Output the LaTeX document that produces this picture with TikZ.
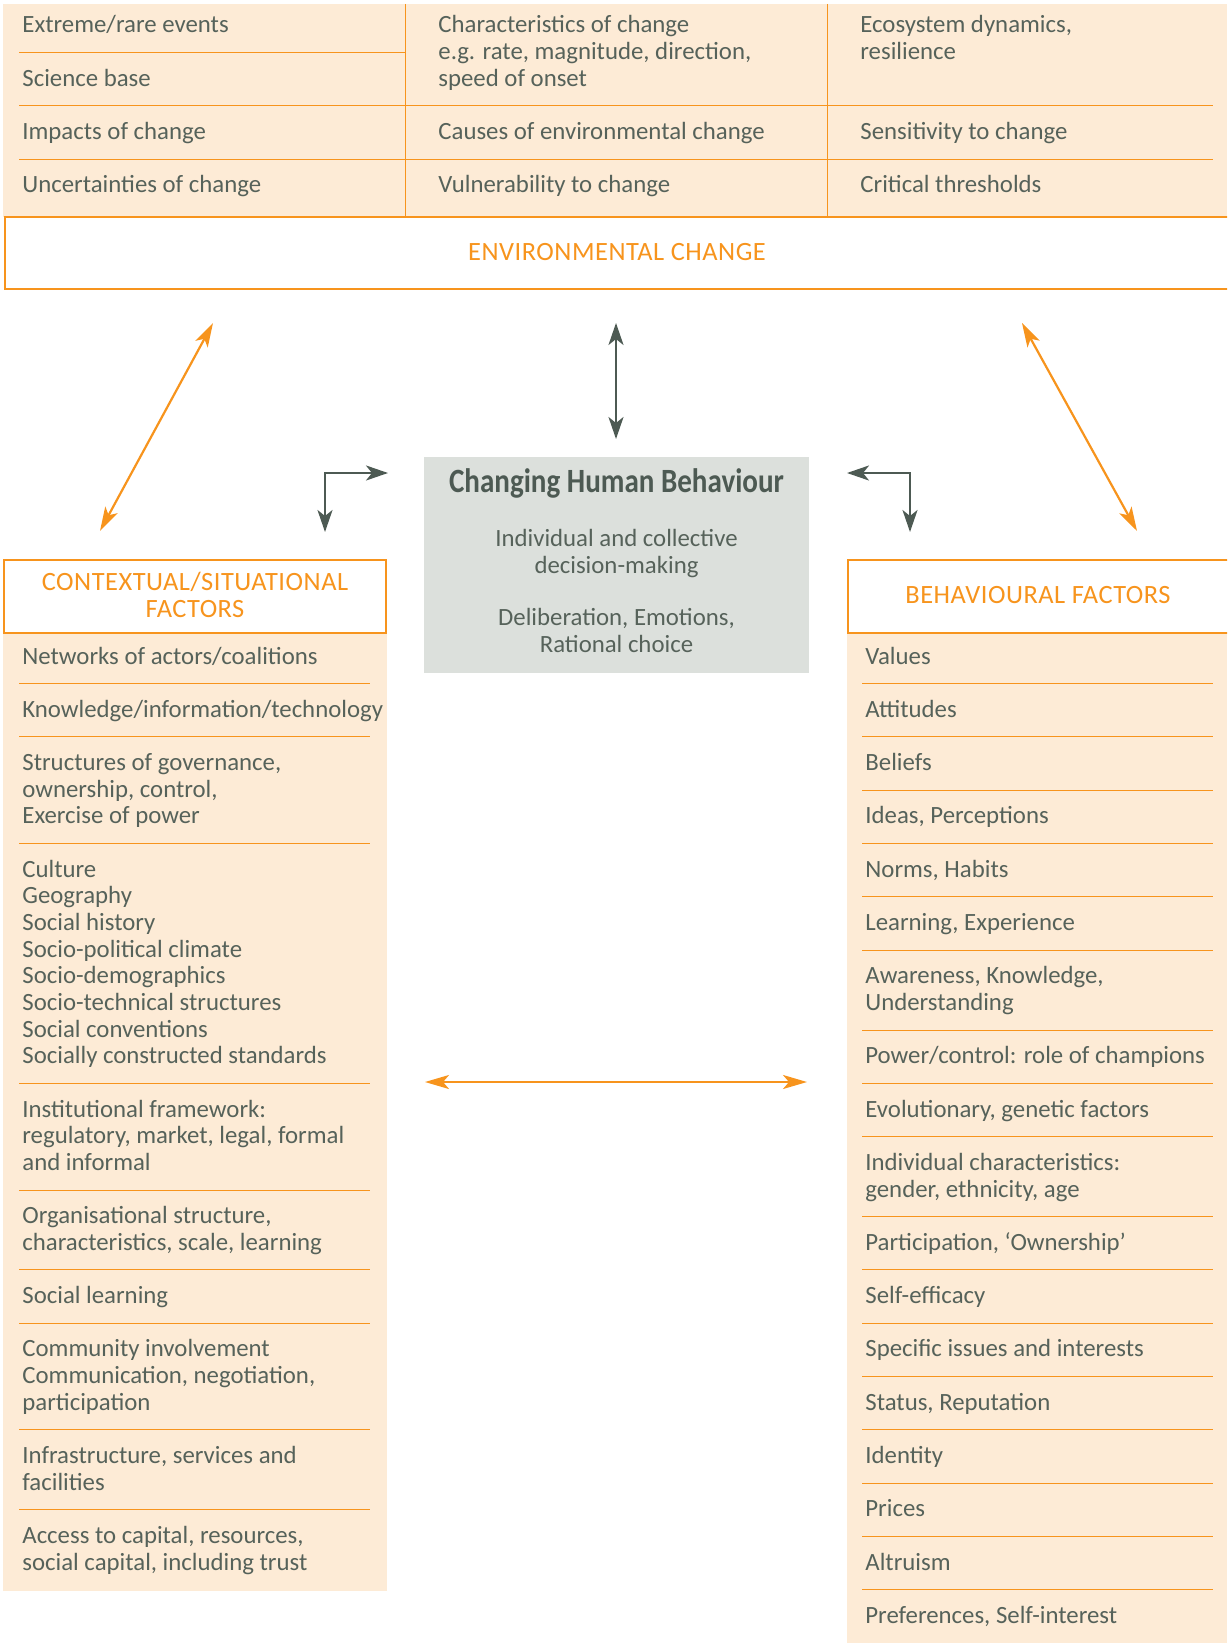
\documentclass[tikz,border=0pt]{standalone}
\usepackage{fontspec}
\usepackage{graphicx}
\setmainfont{Carlito}
\usetikzlibrary{arrows.meta}

\definecolor{envorange}{HTML}{F7941D}
\definecolor{tanbg}{HTML}{FDEBD6}
\definecolor{itemgray}{HTML}{56625A}
\definecolor{boxgray}{HTML}{DCE0DC}
\definecolor{arrowgray}{HTML}{4D5A53}

\tikzset{
  item/.style={anchor=base west, inner sep=0pt, text=itemgray, font=\fontsize{12.4}{13.3}\selectfont},
  midtext/.style={anchor=base, inner sep=0pt, text=itemgray, font=\fontsize{12.4}{13.3}\selectfont},
  heading/.style={inner sep=0pt, text=envorange, align=center, font=\fontsize{13.2}{13.2}\selectfont\addfontfeature{LetterSpace=2}},
  rulesep/.style={draw=envorange, line width=0.5pt},
  framebox/.style={draw=envorange, line width=1.4pt},
  grayarrow/.style={draw=arrowgray, line width=1.2pt, {Stealth[length=11pt,width=7.5pt,inset=3pt]}-{Stealth[length=11pt,width=7.5pt,inset=3pt]}},
  orangearrow/.style={draw=envorange, line width=1.1pt, {Stealth[length=12pt,width=7pt,inset=3pt]}-{Stealth[length=12pt,width=7pt,inset=3pt]}}
}

\begin{document}
\begin{tikzpicture}[x=0.5pt,y=-0.5pt]
    \useasboundingbox (0,0) rectangle (1227,1643);
    \clip (0,0) rectangle (1227,1643);
    % Top table of environmental change
    \fill[tanbg] (3,4) rectangle (1227,217);
    \draw[rulesep] (405,4) -- (405,217) (827,4) -- (827,217);
    \foreach \k in {1,3,5} \draw[rulesep] (19,{26+26.65*\k}) -- (405,{26+26.65*\k});
    \foreach \k in {3,5} \draw[rulesep] (405,{26+26.65*\k}) -- (827,{26+26.65*\k}) (827,{26+26.65*\k}) -- (1213,{26+26.65*\k});
    \foreach \k/\txt in {0/{Extreme/rare events},2/{Science base},4/{Impacts of change},6/{Uncertainties of change}}
      \node[item] (ta\k) at (22,{33+26.65*\k}) {\txt};
    \foreach \k/\txt in {0/{Characteristics of change},1/{e.g. rate, magnitude, direction,},2/{speed of onset},4/{Causes of environmental change},6/{Vulnerability to change}}
      \node[item] (tb\k) at (438,{33+26.65*\k}) {\txt};
    \foreach \k/\txt in {0/{Ecosystem dynamics,},1/{resilience},4/{Sensitivity to change},6/{Critical thresholds}}
      \node[item] (tc\k) at (860,{33+26.65*\k}) {\txt};
    \draw[framebox] (5,217) rectangle (1240,289);
    \node[heading, anchor=base] (env) at (617,260) {ENVIRONMENTAL CHANGE};

    % Changing human behaviour box
    \node[fill=boxgray, minimum width=192.5pt, minimum height=108pt, inner sep=0pt] (chb) at (616.5,565) {};
    \node[anchor=base, inner sep=0pt, text=arrowgray, font=\fontsize{17}{18}\selectfont\bfseries] (chbtitle) at (616.5,492) {\scalebox{0.855}[1]{Changing Human Behaviour}};
    \node[midtext] (chb1) at (616.5,546) {Individual and collective};
    \node[midtext] (chb2) at (616.5,573) {decision-making};
    \node[midtext] (chb3) at (616.5,625) {Deliberation, Emotions,};
    \node[midtext] (chb4) at (616.5,652) {Rational choice};

    % Contextual/situational factors
    \fill[tanbg] (3,633) rectangle (387,1591);
    \draw[framebox, fill=white] (4,560) rectangle (386,633);
    \node[heading] (ctx) at (195,595) {CONTEXTUAL/SITUATIONAL\\FACTORS};
    \foreach \k in {1,3,7,16,20,23,25,29,32} \draw[rulesep] (19,{657+26.65*\k}) -- (370,{657+26.65*\k});
    \foreach \k/\txt in {
      0/{Networks of actors/coalitions},
      2/{Knowledge/information/technology},
      4/{Structures of governance,},
      5/{ownership, control,},
      6/{Exercise of power},
      8/{Culture},
      9/{Geography},
      10/{Social history},
      11/{Socio-political climate},
      12/{Socio-demographics},
      13/{Socio-technical structures},
      14/{Social conventions},
      15/{Socially constructed standards},
      17/{Institutional framework:},
      18/{regulatory, market, legal, formal},
      19/{and informal},
      21/{Organisational structure,},
      22/{characteristics, scale, learning},
      24/{Social learning},
      26/{Community involvement},
      27/{Communication, negotiation,},
      28/{participation},
      30/{Infrastructure, services and},
      31/{facilities},
      33/{Access to capital, resources,},
      34/{social capital, including trust}
    } \node[item] (ctx\k) at (22,{664+26.65*\k}) {\txt};

    % Behavioural factors
    \fill[tanbg] (847,633) rectangle (1227,1643);
    \draw[framebox, fill=white] (848,560) rectangle (1240,633);
    \node[heading, anchor=base] (beh) at (1038,603) {BEHAVIOURAL FACTORS};
    \foreach \k in {1,3,5,7,9,11,14,16,18,21,23,25,27,29,31,33,35} \draw[rulesep] (862,{657+26.65*\k}) -- (1213,{657+26.65*\k});
    \foreach \k/\txt in {
      0/{Values},
      2/{Attitudes},
      4/{Beliefs},
      6/{Ideas, Perceptions},
      8/{Norms, Habits},
      10/{Learning, Experience},
      12/{Awareness, Knowledge,},
      13/{Understanding},
      15/{Power/control: role of champions},
      17/{Evolutionary, genetic factors},
      19/{Individual characteristics:},
      20/{gender, ethnicity, age},
      22/{Participation, ‘Ownership’},
      24/{Self-efficacy},
      26/{Specific issues and interests},
      28/{Status, Reputation},
      30/{Identity},
      32/{Prices},
      34/{Altruism},
      36/{Preferences, Self-interest}
    } \node[item] (beh\k) at (865,{664+26.65*\k}) {\txt};

    % Arrow end points
    \coordinate (envL) at (213,323);
    \coordinate (ctxT) at (100,531);
    \coordinate (envR) at (1022,323);
    \coordinate (behT) at (1137,531);
    \coordinate (envM) at (616,323);
    \coordinate (chbT) at (616,439);
    \coordinate (ctxC) at (325,532);
    \coordinate (chbL) at (388,473);
    \coordinate (chbR) at (847,473);
    \coordinate (behC) at (910,532);
    \coordinate (ctxM) at (425,1082);
    \coordinate (behM) at (807,1082);
    % Links between the parts
    \draw[orangearrow] (envL) -- (ctxT);
    \draw[orangearrow] (envR) -- (behT);
    \draw[grayarrow] (envM) -- (chbT);
    \draw[grayarrow] (ctxC) |- (chbL);
    \draw[grayarrow] (chbR) -| (behC);
    \draw[orangearrow] (ctxM) -- (behM);
\end{tikzpicture}
\end{document}
